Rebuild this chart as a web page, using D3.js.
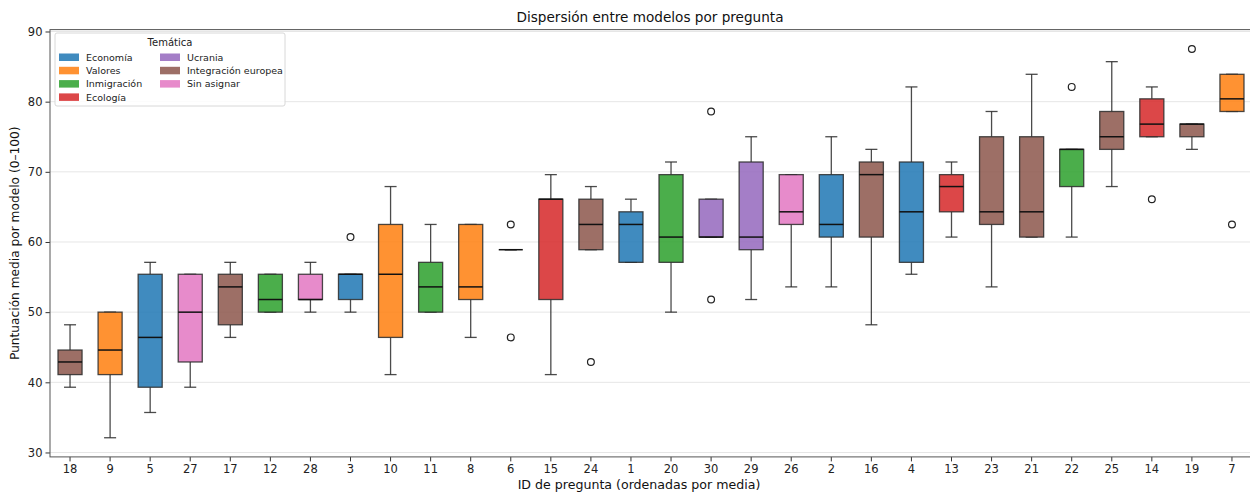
<!DOCTYPE html>
<html>
<head>
<meta charset="utf-8">
<script src="https://cdn.jsdelivr.net/npm/d3@7"></script>
<style>
  html, body { margin: 0; padding: 0; background: #fff; }
  svg { display: block; font-family: "DejaVu Sans", sans-serif; }
</style>
</head>
<body>
<svg id="chart" width="1250" height="496"></svg>
<script>
// Question IDs, ordered by mean score
const questions = ["18","9","5","27","17","12","28","3","10","11","8","6","15","24","1",
                   "20","30","29","26","2","16","4","13","23","21","22","25","14","19","7"];

// Theme of each question
const themes = ["Integración europea","Valores","Economía","Sin asignar","Integración europea",
                "Inmigración","Sin asignar","Economía","Valores","Inmigración","Valores","Valores",
                "Ecología","Integración europea","Economía","Inmigración","Ucrania","Ucrania",
                "Sin asignar","Economía","Integración europea","Economía","Ecología",
                "Integración europea","Integración europea","Inmigración","Integración europea",
                "Ecología","Integración europea","Valores"];

// Box statistics per question (score 0–100)
const whiskerLow  = [39.3,32.1,35.7,39.3,46.4,50.0,50.0,50.0,41.1,50.0,46.4,58.9,41.1,58.9,57.1,
                     50.0,60.7,51.8,53.6,53.6,48.2,55.4,60.7,53.6,60.7,60.7,67.9,75.0,73.2,78.6];
const quartile1   = [41.1,41.1,39.3,42.9,48.2,50.0,51.8,51.8,46.4,50.0,51.8,58.9,51.8,58.9,57.1,
                     57.1,60.7,58.9,62.5,60.7,60.7,57.1,64.3,62.5,60.7,67.9,73.2,75.0,75.0,78.6];
const medians     = [42.9,44.6,46.4,50.0,53.6,51.8,51.8,55.4,55.4,53.6,53.6,58.9,66.1,62.5,62.5,
                     60.7,60.7,60.7,64.3,62.5,69.6,64.3,67.9,64.3,64.3,73.2,75.0,76.8,76.8,80.4];
const quartile3   = [44.6,50.0,55.4,55.4,55.4,55.4,55.4,55.4,62.5,57.1,62.5,58.9,66.1,66.1,64.3,
                     69.6,66.1,71.4,69.6,69.6,71.4,71.4,69.6,75.0,75.0,73.2,78.6,80.4,76.8,83.9];
const whiskerHigh = [48.2,50.0,57.1,55.4,57.1,55.4,57.1,55.4,67.9,62.5,62.5,58.9,69.6,67.9,66.1,
                     71.4,66.1,75.0,69.6,75.0,73.2,82.1,71.4,78.6,83.9,73.2,85.7,82.1,76.8,83.9];
// Outlying model scores: [question, value]
const outliers = [["3",60.7],["6",62.5],["6",46.4],["24",42.9],["30",78.6],["30",51.8],
                  ["22",82.1],["14",66.1],["19",87.5],["7",62.5]];

// Legend order and palette
const themeOrder = ["Economía","Valores","Inmigración","Ecología","Ucrania","Integración europea","Sin asignar"];
const themeColors = ["#1f77b4","#ff7f0e","#2ca02c","#d62728","#9467bd","#8c564b","#e377c2"];
const yTicks = [30,40,50,60,70,80,90];

const svg = d3.select("#chart");
const plotLeft = 50, plotRight = 1252, plotTop = 29.6, plotBottom = 456.9;

const x = d3.scaleBand().domain(questions).range([plotLeft, plotRight]).paddingInner(0.4).paddingOuter(0.2);
const y = d3.scaleLinear().domain([29.37, 90.27]).range([plotBottom, plotTop]);
const color = d3.scaleOrdinal().domain(themeOrder).range(themeColors);

// Horizontal grid
svg.append("g").selectAll("line").data(yTicks).join("line")
  .attr("x1", plotLeft).attr("x2", plotRight)
  .attr("y1", d => y(d)).attr("y2", d => y(d))
  .attr("stroke", "#e6e6e6").attr("stroke-width", 1);

const rows = questions.map((q, i) => ({
  q, theme: themes[i], lo: whiskerLow[i], q1: quartile1[i], med: medians[i],
  q3: quartile3[i], hi: whiskerHigh[i]
}));

const bw = x.bandwidth();
const cx = d => x(d.q) + bw / 2;
const lineColor = "#2b2b2b";

const boxes = svg.append("g").selectAll("g").data(rows).join("g");

// Whiskers
boxes.append("line").attr("x1", cx).attr("x2", cx)
  .attr("y1", d => y(d.q3)).attr("y2", d => y(d.hi))
  .attr("stroke", lineColor).attr("stroke-width", 1.3).attr("stroke-opacity", 0.85);
boxes.append("line").attr("x1", cx).attr("x2", cx)
  .attr("y1", d => y(d.q1)).attr("y2", d => y(d.lo))
  .attr("stroke", lineColor).attr("stroke-width", 1.3).attr("stroke-opacity", 0.85);
// Caps
boxes.append("line").attr("x1", d => cx(d) - bw / 4).attr("x2", d => cx(d) + bw / 4)
  .attr("y1", d => y(d.hi)).attr("y2", d => y(d.hi))
  .attr("stroke", lineColor).attr("stroke-width", 1.3).attr("stroke-opacity", 0.85);
boxes.append("line").attr("x1", d => cx(d) - bw / 4).attr("x2", d => cx(d) + bw / 4)
  .attr("y1", d => y(d.lo)).attr("y2", d => y(d.lo))
  .attr("stroke", lineColor).attr("stroke-width", 1.3).attr("stroke-opacity", 0.85);
// Boxes
boxes.append("rect")
  .attr("x", d => x(d.q)).attr("width", bw)
  .attr("y", d => y(d.q3)).attr("height", d => y(d.q1) - y(d.q3))
  .attr("fill", d => color(d.theme)).attr("fill-opacity", 0.85)
  .attr("stroke", lineColor).attr("stroke-width", 1.3).attr("stroke-opacity", 0.85);
// Medians
boxes.append("line").attr("x1", d => x(d.q)).attr("x2", d => x(d.q) + bw)
  .attr("y1", d => y(d.med)).attr("y2", d => y(d.med))
  .attr("stroke", "#111").attr("stroke-width", 1.5);

// Outliers
svg.append("g").selectAll("circle").data(outliers).join("circle")
  .attr("cx", d => x(d[0]) + bw / 2).attr("cy", d => y(d[1])).attr("r", 3.4)
  .attr("fill", "none").attr("stroke", "#222").attr("stroke-width", 1.2);

// Axes
const xAxis = svg.append("g").attr("transform", `translate(0,${plotBottom})`)
  .call(d3.axisBottom(x).tickSize(4.5).tickPadding(3));
const yAxis = svg.append("g").attr("transform", `translate(${plotLeft},0)`)
  .call(d3.axisLeft(y).tickValues(yTicks).tickSize(4.5).tickPadding(3));
[xAxis, yAxis].forEach(g => {
  g.select(".domain").remove();
  g.selectAll(".tick line").attr("stroke", "#333");
  g.selectAll("text").attr("fill", "#222").style("font-size", "11.5px")
    .style("font-family", "'DejaVu Sans', sans-serif");
});

// Frame
svg.append("rect").attr("x", plotLeft).attr("y", plotTop)
  .attr("width", plotRight - plotLeft).attr("height", plotBottom - plotTop)
  .attr("fill", "none").attr("stroke", "#555").attr("stroke-width", 1);

// Titles
svg.append("text").attr("x", 650).attr("y", 22)
  .attr("text-anchor", "middle").style("font-size", "13.6px").attr("fill", "#111")
  .text("Dispersión entre modelos por pregunta");
svg.append("text").attr("x", 639).attr("y", 489)
  .attr("text-anchor", "middle").style("font-size", "12.6px").attr("fill", "#111")
  .text("ID de pregunta (ordenadas por media)");
svg.append("text").attr("transform", `translate(19,${(plotTop + plotBottom) / 2}) rotate(-90)`)
  .attr("text-anchor", "middle").style("font-size", "12.2px").attr("fill", "#111")
  .text("Puntuación media por modelo (0–100)");

// Legend
const lg = svg.append("g").attr("transform", "translate(55,33)");
lg.append("rect").attr("width", 230).attr("height", 73).attr("rx", 2)
  .attr("fill", "#fff").attr("fill-opacity", 0.85).attr("stroke", "#d8d8d8");
lg.append("text").attr("x", 115).attr("y", 13).attr("text-anchor", "middle")
  .style("font-size", "10px").attr("fill", "#222").text("Temática");
const items = lg.selectAll("g.item").data(themeOrder).join("g").attr("class", "item")
  .attr("transform", (d, i) => {
    const col = i < 4 ? 0 : 1, row = i < 4 ? i : i - 4;
    return `translate(${4 + col * 101},${20.5 + row * 13.3})`;
  });
items.append("rect").attr("width", 20).attr("height", 7.5)
  .attr("fill", d => color(d)).attr("fill-opacity", 0.85);
items.append("text").attr("x", 27).attr("y", 7.3)
  .style("font-size", "9.5px").attr("fill", "#222").text(d => d);
</script>
</body>
</html>
